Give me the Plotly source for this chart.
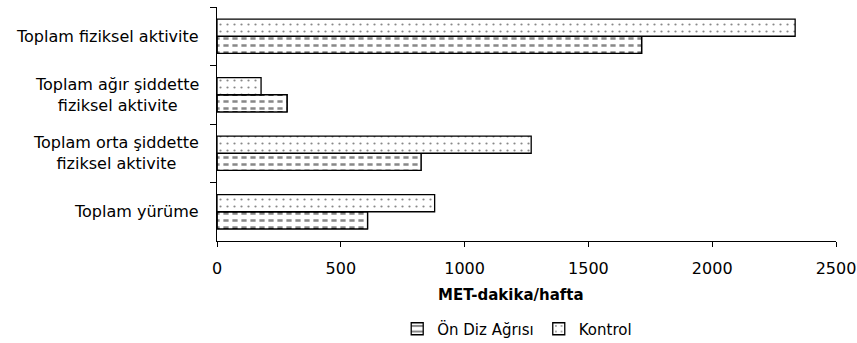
import plotly.graph_objects as go

# Activity categories, top to bottom
categories = [
    "Toplam fiziksel aktivite",
    "Toplam ağır şiddette<br>fiziksel aktivite",
    "Toplam orta şiddette<br>fiziksel aktivite",
    "Toplam yürüme",
]
# MET-dakika/hafta values per group
on_diz_agrisi = [1715, 283, 824, 608]
kontrol = [2335, 178, 1269, 879]
x_ticks = [0, 500, 1000, 1500, 2000, 2500]

FONT = "DejaVu Sans, Liberation Sans, Arial, sans-serif"
BAR_W = 0.293
INK = "#111111"

fig = go.Figure()

# Ön Diz Ağrısı: horizontal stripes, later cut into dashes
fig.add_trace(go.Bar(
    name="Ön Diz Ağrısı", orientation="h", x=on_diz_agrisi, y=categories,
    width=BAR_W, offset=0,
    marker=dict(color="white", line=dict(color="black", width=1.3),
                pattern=dict(shape="-", size=7, solidity=0.36,
                             fgcolor=INK, bgcolor="white")),
    hoverinfo="x+name",
))
# white vertical strokes breaking the stripes into dashes
fig.add_trace(go.Bar(
    orientation="h", x=on_diz_agrisi, y=categories,
    width=BAR_W, offset=0, showlegend=False, hoverinfo="skip",
    marker=dict(color="rgba(0,0,0,0)", line=dict(color="black", width=1.3),
                pattern=dict(shape="|", size=9, solidity=0.42,
                             fgcolor="white", bgcolor="rgba(0,0,0,0)",
                             fillmode="replace")),
))
# Kontrol: dotted fill
fig.add_trace(go.Bar(
    name="Kontrol", orientation="h", x=kontrol, y=categories,
    width=BAR_W, offset=-BAR_W,
    marker=dict(color="white", line=dict(color="black", width=1.3),
                pattern=dict(shape=".", size=7, solidity=0.08,
                             fgcolor=INK, bgcolor="white")),
    hoverinfo="x+name",
))

# Category labels, centred line by line
for cat in categories:
    fig.add_annotation(
        x=0, xref="paper", y=cat, yref="y", text=cat, showarrow=False,
        xanchor="right", yanchor="middle", align="center", xshift=-16,
        font=dict(family=FONT, size=16, color="black"),
    )

# x-axis title
fig.add_annotation(
    x=0.475, xref="paper", y=-0.231, yref="paper",
    text="<b>MET-dakika/hafta</b>", showarrow=False,
    xanchor="center", yanchor="middle",
    font=dict(family=FONT, size=15, color="black"),
)

fig.update_layout(
    width=857, height=343,
    margin=dict(l=217, r=21, t=7, b=102, autoexpand=False),
    paper_bgcolor="white", plot_bgcolor="white",
    barmode="overlay",
    font=dict(family=FONT, size=15, color="black"),
    showlegend=True,
    legend=dict(orientation="h", x=0.485, xanchor="center", y=-0.376,
                yanchor="middle", font=dict(family=FONT, size=15),
                itemwidth=30, tracegroupgap=0),
    xaxis=dict(
        range=[0, 2500], tickvals=x_ticks, ticks="outside", ticklen=5,
        tickcolor="black", showline=True, linecolor="black", linewidth=1,
        showgrid=False, zeroline=False, automargin=False,
        ticklabelstandoff=8,
        tickfont=dict(family=FONT, size=16, color="black"),
    ),
    yaxis=dict(
        type="category", categoryorder="array", categoryarray=categories,
        range=[3.5, -0.5], showticklabels=False, ticks="outside",
        tickson="boundaries", ticklen=6, tickcolor="black",
        showline=True, linecolor="black", linewidth=1, showgrid=False,
        automargin=False,
    ),
)

fig.write_html("out.html")
